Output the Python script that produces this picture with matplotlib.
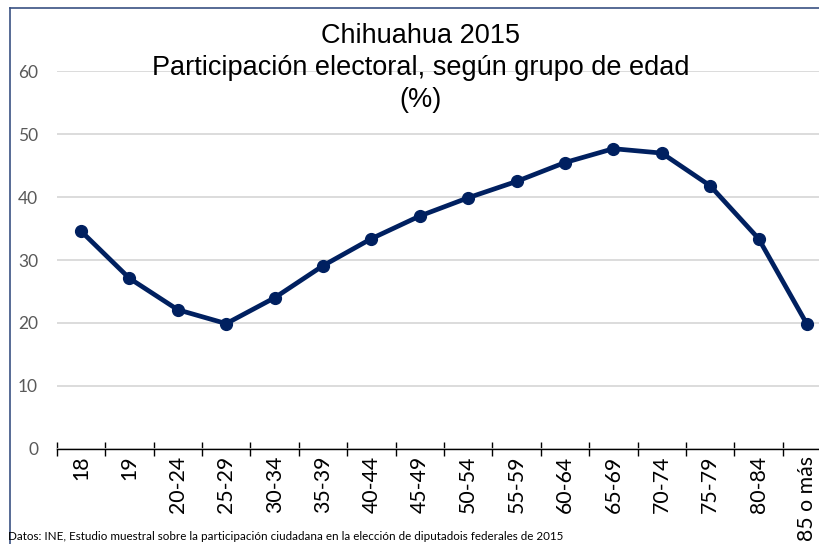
import matplotlib
matplotlib.use('Agg')
import matplotlib.pyplot as plt
from matplotlib.lines import Line2D

OUTFILE = 'out.png'

grupos = ['18', '19', '20-24', '25-29', '30-34', '35-39', '40-44', '45-49',
          '50-54', '55-59', '60-64', '65-69', '70-74', '75-79', '80-84', '85 o más']
participacion = [34.6, 27.1, 22.1, 19.9, 24.0, 29.1, 33.4, 37.0,
                 39.9, 42.5, 45.5, 47.7, 47.0, 41.8, 33.4, 19.8]
yticks = [0, 10, 20, 30, 40, 50, 60]

titulo = 'Chihuahua 2015\nParticipación electoral, según grupo de edad\n(%)'
fuente = ('Datos: INE, Estudio muestral sobre la participación ciudadana en la '
          'elección de diputadois federales de 2015')

W, H = 819, 544
fig = plt.figure(figsize=(W / 100, H / 100), dpi=100)
# plot area runs a bit past the right edge, like the original
ax = fig.add_axes([56.8 / W, 1 - 448.8 / H, 774.4 / W, 377.5 / H])

x = list(range(len(grupos)))
ax.plot(x, participacion, color='#002060', lw=3.4, marker='o', ms=8.5,
        solid_joinstyle='round', clip_on=False, zorder=3)

ax.set_xlim(-0.5, len(grupos) - 0.5)
ax.set_ylim(0, 60)
ax.set_yticks(yticks)
ax.yaxis.grid(True, color='#D9D9D9', lw=1.3)
ax.set_axisbelow(True)
for s in ['top', 'right', 'left']:
    ax.spines[s].set_visible(False)
ax.spines['bottom'].set_color('black')
ax.spines['bottom'].set_linewidth(1.0)

ax.tick_params(axis='y', length=0, pad=13.5, labelsize=12.5, labelcolor='#595959')
for lab in ax.get_yticklabels():
    lab.set_fontfamily('Lato')

# ticks between categories, labels at category centres
ax.set_xticks([i - 0.5 for i in range(len(grupos))])
ax.set_xticklabels([])
ax.set_xticks(x, minor=True)
ax.set_xticklabels(grupos, minor=True, rotation=90, fontsize=15.3,
                   fontfamily='Lato', color='black', va='top')
ax.tick_params(axis='x', which='major', direction='inout', length=10, width=1, color='black')
ax.tick_params(axis='x', which='minor', length=0, pad=5)

fig.text(421 / W, 1 - 68 / H, titulo, ha='center', va='center', fontsize=19.5,
         fontfamily='Liberation Sans', linespacing=1.28)
fig.text(8 / W, 1 - 536 / H, fuente, ha='left', va='center', fontsize=8.4,
         fontfamily='Lato')

# chart frame: only its top and left edges fall inside the image
bc = '#3A5283'
fig.add_artist(Line2D([9.5 / W, 9.5 / W], [0, 1 - 8 / H], color=bc, lw=1.2))
fig.add_artist(Line2D([9.5 / W, 1], [1 - 8 / H, 1 - 8 / H], color=bc, lw=1.2))

fig.savefig(OUTFILE, dpi=100)
